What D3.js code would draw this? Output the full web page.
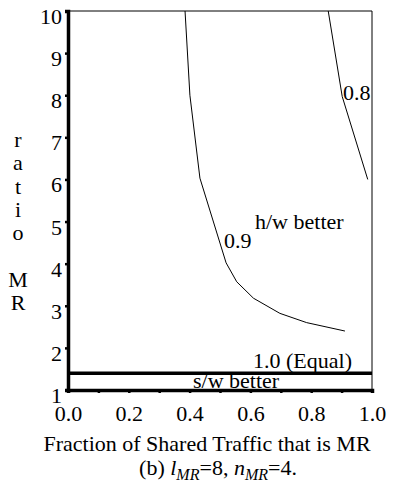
<!DOCTYPE html>
<html>
<head>
<meta charset="utf-8">
<script src="https://cdn.jsdelivr.net/npm/d3@7"></script>
<style>
  body { margin: 0; background: #fff; }
  svg { display: block; }
  text { font-family: "Liberation Serif", "Times New Roman", serif; fill: #000; }
</style>
</head>
<body>
<div id="chart"></div>
<script>
// contour data: fraction of shared traffic vs MR ratio
const curve09Frac  = [0.385, 0.401, 0.434, 0.52, 0.555, 0.61, 0.697, 0.785, 0.911];
const curve09Ratio = [10, 8.0, 6.03, 4.02, 3.57, 3.18, 2.82, 2.60, 2.40];
const curve08Frac  = [0.856, 0.902, 0.986];
const curve08Ratio = [10, 7.97, 6.0];
const equalRatio = 1.4;
const xTickLabels = ["0.0", "0.2", "0.4", "0.6", "0.8", "1.0"];
const yTicks = [1, 2, 3, 4, 5, 6, 7, 8, 9, 10];
const yLabelLetters = ["r", "a", "t", "i", "o", "", "M", "R"];

const width = 401, height = 482;
const margin = { left: 68, right: 29, top: 11, bottom: 92 };

const svg = d3.select("#chart")
  .append("svg")
  .attr("width", width)
  .attr("height", height)
  .style("font-size", "22px");

const x = d3.scaleLinear().domain([0, 1]).range([margin.left, width - margin.right]);
const y = d3.scaleLinear().domain([1, 10]).range([height - margin.bottom, margin.top]);

// thin frame top & right
svg.append("path")
  .attr("d", `M${x(0)},${y(10)}H${x(1)}V${y(1)}`)
  .attr("fill", "none")
  .attr("stroke", "#000")
  .attr("stroke-width", 1);

// s/w better sits under the axis line
svg.append("text").attr("x", 193).attr("y", 388).text("s/w better");

// axes
const xAxis = d3.axisBottom(x)
  .tickValues(d3.range(0, 11).map(i => i / 10))
  .tickSize(3)
  .tickFormat(d => {
    const i = Math.round(d * 10);
    return i % 2 === 0 ? xTickLabels[i / 2] : "";
  });

const gx = svg.append("g")
  .attr("transform", `translate(0,${y(1)})`)
  .attr("font-family", null)
  .attr("font-size", null)
  .call(xAxis);
gx.attr("font-family", null).attr("font-size", null);
gx.select(".domain").attr("stroke-width", 3.5);
gx.selectAll(".tick line").attr("stroke-width", 2.5);
gx.selectAll("text")
  .attr("y", 31)
  .attr("dy", null);

const yAxis = d3.axisLeft(y).tickValues(yTicks).tickSize(3).tickFormat(d3.format("d"));
const gy = svg.append("g")
  .attr("transform", `translate(${x(0)},0)`)
  .call(yAxis);
gy.attr("font-family", null).attr("font-size", null);
gy.select(".domain").attr("stroke-width", 3.5);
gy.selectAll(".tick line").attr("stroke-width", 2.5);
gy.selectAll("text")
  .attr("x", -6)
  .attr("dy", 12.5);

// equal line
svg.append("line")
  .attr("x1", x(0)).attr("x2", x(1))
  .attr("y1", y(equalRatio)).attr("y2", y(equalRatio))
  .attr("stroke", "#000")
  .attr("stroke-width", 3.5);

// contour curves
const line = d3.line().x(d => x(d[0])).y(d => y(d[1]));

svg.append("path")
  .datum(d3.zip(curve09Frac, curve09Ratio))
  .attr("d", line)
  .attr("fill", "none")
  .attr("stroke", "#000")
  .attr("stroke-width", 1);

svg.append("path")
  .datum(d3.zip(curve08Frac, curve08Ratio))
  .attr("d", line)
  .attr("fill", "none")
  .attr("stroke", "#000")
  .attr("stroke-width", 1);

// labels inside the plot
svg.append("text").attr("x", 343).attr("y", 100).text("0.8");
svg.append("text").attr("x", 224).attr("y", 248).text("0.9");
svg.append("text").attr("x", 255).attr("y", 229).text("h/w better");
svg.append("text").attr("x", 253).attr("y", 368).text("1.0 (Equal)");

// stacked y label
svg.append("g")
  .selectAll("text")
  .data(yLabelLetters)
  .join("text")
  .attr("x", 18)
  .attr("y", (d, i) => 147 + i * 23.3)
  .attr("text-anchor", "middle")
  .text(d => d);

// x title
svg.append("text")
  .attr("x", 207)
  .attr("y", 451)
  .attr("text-anchor", "middle")
  .text("Fraction of Shared Traffic that is MR");

// caption
const cap = svg.append("text")
  .attr("x", 218)
  .attr("y", 475)
  .attr("text-anchor", "middle");
cap.append("tspan").text("(b) ");
cap.append("tspan").style("font-style", "italic").text("l");
cap.append("tspan").style("font-style", "italic").style("font-size", "16px").attr("dy", 5).text("MR");
cap.append("tspan").attr("dy", -5).text("=8, ");
cap.append("tspan").style("font-style", "italic").text("n");
cap.append("tspan").style("font-style", "italic").style("font-size", "16px").attr("dy", 5).text("MR");
cap.append("tspan").attr("dy", -5).text("=4.");
</script>
</body>
</html>
